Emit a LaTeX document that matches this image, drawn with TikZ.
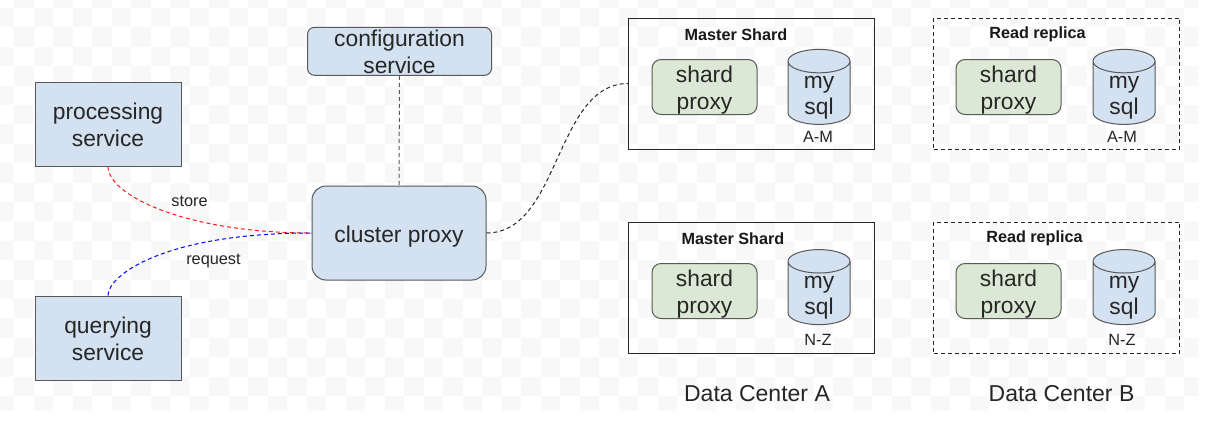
\documentclass[tikz,border=0pt]{standalone}
\usepackage{fontspec}
\setmainfont{Liberation Sans}
\usetikzlibrary{shapes.geometric}
\definecolor{boxblue}{HTML}{D3E1F1}
\definecolor{boxgreen}{HTML}{DBE8D5}
\definecolor{edge}{HTML}{595959}
\definecolor{tile}{HTML}{F8F8F8}
\tikzset{
 big/.style={font=\fontsize{22.8}{26.5}\selectfont,align=center,text=black!85,inner xsep=0pt,inner ysep=-12pt,
   execute at begin node=\rule{0pt}{#1},execute at end node=\rule[-7pt]{0pt}{7pt}},
 big/.default=51pt,
 small/.style={font=\fontsize{16.3}{18}\selectfont,text=black!85,inner sep=0pt},
 heading/.style={font=\fontsize{16.2}{18}\selectfont\bfseries,text=black!90,inner sep=0pt},
 caption/.style={font=\fontsize{23}{26}\selectfont,text=black!85,inner sep=0pt},
 svc/.style={big=51.5pt,draw=edge,line width=1pt,fill=boxblue,minimum width=146pt,minimum height=84pt},
 rbox/.style={draw=edge,line width=1pt,fill=boxblue},
 shardbox/.style={big,draw=edge,line width=1pt,fill=boxgreen,rounded corners=9pt,minimum width=105pt,minimum height=55pt},
 db/.style={big=50.5pt,shape=cylinder,shape border rotate=90,aspect=0.77,draw=edge,line width=1pt,fill=boxblue,cylinder uses custom fill,cylinder body fill=boxblue,cylinder end fill=boxblue,minimum width=62pt,minimum height=75pt},
 group/.style={draw=black!85,line width=1pt,minimum width=246pt,minimum height=131pt,inner sep=0pt},
 dgroup/.style={group,dash pattern=on 4pt off 3pt},
 link/.style={line width=1pt,dash pattern=on 4pt off 3pt},
}
\begin{document}
\begin{tikzpicture}[x=1pt,y=-1pt]
\useasboundingbox (0,0) rectangle (1220,424);
\fill[white] (0,0) rectangle (1220,424);
% transparency checkerboard of the source image
\begin{scope}
\clip (0,0) rectangle (1198,410);
\foreach \i in {0,...,62}{\foreach \j in {0,...,21}{
  \pgfmathtruncatemacro{\p}{mod(\i+\j,2)}
  \ifnum\p=1 \fill[tile] ({-5.5+19.5*\i},{-11.4+19.4*\j}) rectangle +(19.5,19.4);\fi
}}
\end{scope}
\node[svc] (proc) at (108,124) {processing\\service};
\node[svc] (query) at (108,338) {querying\\service};
\node[rbox,big,rounded corners=7pt,minimum width=184pt,minimum height=48pt] (config) at (399.5,51.3) {configuration\\service};
\node[rbox,big=26pt,rounded corners=14pt,minimum width=174pt,minimum height=94pt] (cluster) at (399,233) {cluster proxy};
\node[group] (m1) at (751.7,83.5) {};
\node[group] (m2) at (751.7,287.5) {};
\node[dgroup] (r1) at (1056.7,83.5) {};
\node[dgroup] (r2) at (1056.7,287.5) {};
\node[heading] (mt1) at (736,34.5) {Master Shard};
\node[heading] (mt2) at (733,238.5) {Master Shard};
\node[heading] (rt1) at (1037.5,34.5) {Read replica};
\node[heading] (rt2) at (1034.5,238.5) {Read replica};
\node[shardbox] (s1) at (704.5,87) {shard\\proxy};
\node[shardbox] (s2) at (704.5,291) {shard\\proxy};
\node[shardbox] (s3) at (1008.5,87) {shard\\proxy};
\node[shardbox] (s4) at (1008.5,291) {shard\\proxy};
\node[db] (d1) at (819,93) {my\\sql};
\node[db] (d2) at (819,293.2) {my\\sql};
\node[db] (d3) at (1124,93) {my\\sql};
\node[db] (d4) at (1124,293.2) {my\\sql};
\node[small] (l1) at (818,136.5) {A-M};
\node[small] (l2) at (818,340) {N-Z};
\node[small] (l3) at (1122,136.5) {A-M};
\node[small] (l4) at (1122,340) {N-Z};
\node[caption] (dca) at (757,394) {Data Center A};
\node[caption] (dcb) at (1061.5,394) {Data Center B};
\draw[link,edge] (config.south) -- (cluster.north);
\draw[link,red!90] (proc.south) .. controls (108,195) and (185,233) .. (cluster.west);
\draw[link,blue] (query.north) .. controls (108,275) and (165,233) .. (cluster.west);
\draw[link,black!85] (cluster.east) .. controls (560,233) and (555,83.5) .. (m1.west);
\node[small] (store) at (189.5,201.5) {store};
\node[small] (req) at (213.5,261) {request};
\end{tikzpicture}
\end{document}
